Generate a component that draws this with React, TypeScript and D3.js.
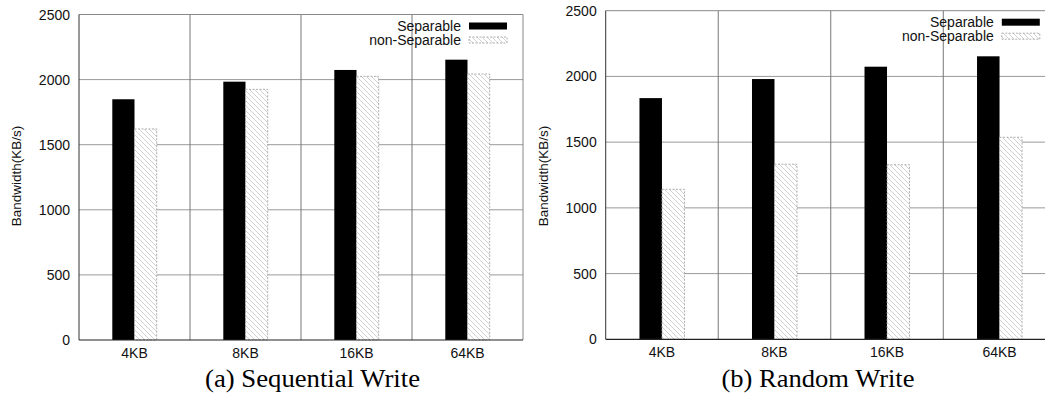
import React from "react";
import * as d3 from "d3";

// values
const categories = ["4KB", "8KB", "16KB", "64KB"];
const seriesNames = ["Separable", "non-Separable"];
const seqSeparable = [1849, 1984, 2074, 2153];
const seqNonSeparable = [1621, 1925, 2025, 2043];
const rndSeparable = [1835, 1980, 2074, 2153];
const rndNonSeparable = [1141, 1332, 1328, 1537];
const yTicks = [0, 500, 1000, 1500, 2000, 2500];

const W = 1045;
const H = 396;
const sans = "Arial, 'Liberation Sans', Helvetica, sans-serif";
const serif = "'Times New Roman', 'Liberation Serif', serif";

type PanelProps = {
    id: string;
    x0: number;
    x1: number;
    yTop: number;
    yBottom: number;
    separable: number[];
    nonSeparable: number[];
    caption: string;
    captionX: number;
    captionWidth: number;
};

const Panel = ({ id, x0, x1, yTop, yBottom, separable, nonSeparable, caption, captionX, captionWidth }: PanelProps) => {
    const x = d3.scaleBand().domain(categories).range([x0, x1]).padding(0);
    const y = d3.scaleLinear().domain([0, 2500]).range([yBottom, yTop]);
    const bw = x.bandwidth() * 0.2;
    const hatch = `hatch-${id}`;

    return (
        <g>
            <defs>
                <pattern id={hatch} patternUnits="userSpaceOnUse" width={5} height={5}>
                    <rect width={5} height={5} fill="#fff" />
                    <path d="M0,0 L5,5 M-1,4 L1,6 M4,-1 L6,1" stroke="#bdbdbd" strokeWidth={0.7} />
                </pattern>
            </defs>

            {/* grid */}
            {yTicks.slice(1, -1).map(t => (
                <line key={"h" + t} x1={x0} x2={x1} y1={y(t)} y2={y(t)} stroke="#999" strokeWidth={1} />
            ))}
            {categories.slice(1).map(c => (
                <line key={"v" + c} x1={x(c)} x2={x(c)} y1={yTop} y2={yBottom} stroke="#777" strokeWidth={1} />
            ))}

            {/* bars */}
            {categories.map((c, i) => {
                const cx = (x(c) as number) + x.bandwidth() / 2;
                return (
                    <g key={c}>
                        <rect x={cx - bw} y={y(separable[i])} width={bw} height={yBottom - y(separable[i])} fill="#000" />
                        <rect x={cx} y={y(nonSeparable[i])} width={bw} height={yBottom - y(nonSeparable[i])}
                              fill={`url(#${hatch})`} stroke="#999" strokeWidth={0.8} strokeDasharray="2,1.5" />
                    </g>
                );
            })}

            {/* frame */}
            <line x1={x0} x2={x1} y1={yTop} y2={yTop} stroke="#888" strokeWidth={1} />
            <line x1={x1} x2={x1} y1={yTop} y2={yBottom} stroke="#888" strokeWidth={1} />
            <line x1={x0} x2={x0} y1={yTop} y2={yBottom} stroke="#333" strokeWidth={1} />
            <line x1={x0} x2={x1} y1={yBottom} y2={yBottom} stroke="#222" strokeWidth={1.2} />

            {/* y ticks */}
            {yTicks.map(t => (
                <text key={"yt" + t} x={x0 - 9} y={y(t)} dy="0.36em" textAnchor="end"
                      fontFamily={sans} fontSize={14} fill="#111">{t}</text>
            ))}
            {/* x labels */}
            {categories.map(c => (
                <text key={"xl" + c} x={(x(c) as number) + x.bandwidth() / 2} y={yBottom + 18} textAnchor="middle"
                      fontFamily={sans} fontSize={14} fill="#111">{c}</text>
            ))}
            <text transform={`translate(${x0 - 63},176) rotate(-90)`} textAnchor="middle" dy="0.36em"
                  fontFamily={sans} fontSize={13.5} fill="#111">Bandwidth(KB/s)</text>

            {/* legend */}
            {seriesNames.map((s, i) => {
                const ly = yTop + 11.5 + i * 14;
                return (
                    <g key={s}>
                        <text x={x1 - 62} y={ly} dy="0.36em" textAnchor="end" fontFamily={sans} fontSize={14} fill="#111">{s}</text>
                        {i === 0
                            ? <rect x={x1 - 54} y={ly - 3.5} width={38} height={7} fill="#000" />
                            : <rect x={x1 - 54} y={ly - 3} width={38} height={6} fill={`url(#${hatch})`}
                                    stroke="#999" strokeWidth={0.8} strokeDasharray="2,1.5" />}
                    </g>
                );
            })}

            {/* caption */}
            <text x={captionX} y={387} textAnchor="middle" fontFamily={serif} fontSize={25} fill="#000"
                  textLength={captionWidth} lengthAdjust="spacingAndGlyphs">{caption}</text>
        </g>
    );
};

export default function App() {
    return (
        <svg width={W} height={H} style={{ position: "absolute", left: 0, top: 0, background: "#fff" }}>
            <rect width={W} height={H} fill="#fff" />
            <Panel id="a" x0={79} x1={523} yTop={14.5} yBottom={340}
                   separable={seqSeparable} nonSeparable={seqNonSeparable}
                   caption="(a) Sequential Write" captionX={312.5} captionWidth={215} />
            <Panel id="b" x0={605.7} x1={1055.8} yTop={10.7} yBottom={339.3}
                   separable={rndSeparable} nonSeparable={rndNonSeparable}
                   caption="(b) Random Write" captionX={818} captionWidth={193} />
        </svg>
    );
}
